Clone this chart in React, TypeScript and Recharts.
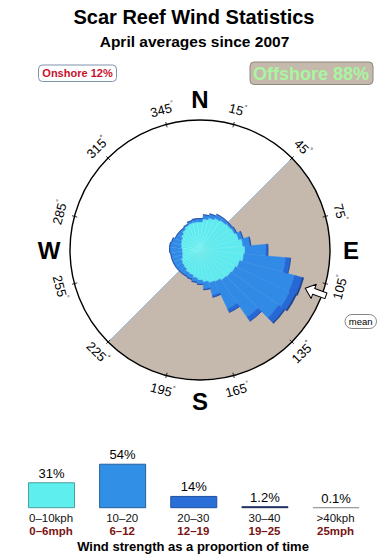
import {
  RadialBarChart,
  RadialBar,
  PolarAngleAxis,
  PolarRadiusAxis,
  BarChart,
  Bar,
  XAxis,
  YAxis,
  Cell,
  LabelList,
} from "recharts";

const FONT = "'Liberation Sans', Arial, Helvetica, sans-serif";

// rose: 10 degree sectors, values are radial lengths per speed band (stacked)
const directions = [
  0, 10, 20, 30, 40, 50, 60, 70, 80, 90, 100, 110, 120, 130, 140, 150, 160, 170,
  180, 190, 200, 210, 220, 230, 240, 250, 260, 270, 280, 290, 300, 310, 320, 330, 340, 350,
];
const band0to10 = [
  28, 31, 33, 35, 36, 37, 38, 40, 43, 45, 44, 41, 39, 38, 37, 35, 34, 32,
  30, 28, 26, 25, 23, 22, 21, 19, 18, 18, 19, 20, 21, 23, 25, 27, 28, 28,
];
const band10to20 = [
  3, 4, 4, 4, 3, 2, 2, 4, 7, 21, 42, 57, 60, 58, 45, 30, 13, 7,
  4, 4, 4, 4, 6, 7, 8, 10, 11, 12, 11, 9, 6, 4, 2, 1, 2, 3,
];
const band20to30 = [
  0.5, 0.5, 0.5, 0.5, 0.5, 0.5, 0.5, 0.5, 1, 2, 5, 8, 6, 7, 5, 4, 2, 1,
  0.5, 0.5, 0.5, 0.5, 0.5, 0.5, 0.5, 0.5, 0.5, 0.5, 0.5, 0.5, 0.5, 0.5, 0.5, 0.5, 0.5, 0.5,
];
const band30to40 = [
  0, 0, 0, 0, 0, 0, 0, 0, 0, 0, 0, 1.5, 1.5, 1, 0, 0, 0, 0,
  0, 0, 0, 0, 0, 0, 0, 0, 0, 0, 0, 0, 0, 0, 0, 0, 0, 0,
];

// strength summary
const kphLabels = ["0–10kph", "10–20", "20–30", "30–40", ">40kph"];
const mphLabels = ["0–6mph", "6–12", "12–19", "19–25", "25mph"];
const strengthShares = [31, 54, 14, 1.2, 0.1];
const strengthFills = ["#5eeeee", "#3190e6", "#2a6fd8", "#1c2f5c", "#9c9c9c"];
const strengthStrokes = ["#4f9ea0", "#245e9c", "#1f4f9c", "#1c2f5c", "#9c9c9c"];

const onshorePct = 12;
const offshorePct = 88;
const offshoreFrom = 45;
const offshoreTo = 225;
const meanBearing = 110;
const bearingTicks = [15, 45, 75, 105, 135, 165, 195, 225, 255, 285, 315, 345];
const cardinals = [
  { label: "N", bearing: 0 },
  { label: "E", bearing: 90 },
  { label: "S", bearing: 180 },
  { label: "W", bearing: 270 },
];

const roseData = directions.map((dir, i) => ({
  dir,
  b1: band0to10[i],
  b2: band10to20[i],
  b3: band20to30[i],
  b4: band30to40[i],
}));

const strengthData = kphLabels.map((kph, i) => ({
  kph,
  mph: mphLabels[i],
  share: strengthShares[i],
}));

const CX = 200;
const CY = 250;
const R = 130;

const polar = (r: number, bearing: number) => {
  const a = (bearing * Math.PI) / 180;
  return [CX + r * Math.sin(a), CY - r * Math.cos(a)];
};

const labelRotation = (b: number) => (b <= 90 ? b : b >= 270 ? b - 360 : b - 180);

const StrengthTick = (props: any) => {
  const { x, y, payload, index } = props;
  return (
    <g>
      <text x={x} y={y + 14.5} textAnchor="middle" fontSize={11.5} fill="#111" fontFamily={FONT}>
        {payload.value}
      </text>
      <text x={x} y={y + 27.5} textAnchor="middle" fontSize={11.5} fontWeight="bold" fill="#7a1414" fontFamily={FONT}>
        {mphLabels[index]}
      </text>
    </g>
  );
};

export default function App() {
  const [ox1, oy1] = polar(R, offshoreFrom);
  const [ox2, oy2] = polar(R, offshoreTo);

  return (
    <div style={{ position: "relative", width: 390, height: 560, background: "#fff", fontFamily: FONT, overflow: "hidden" }}>
      <style>{"body{margin:0}"}</style>

      {/* titles, shore boxes and compass background */}
      <svg width={390} height={560} style={{ position: "absolute", left: 0, top: 0 }}>
        <text x={194} y={24} textAnchor="middle" fontSize={20} fontWeight="bold" fill="#000">
          Scar Reef Wind Statistics
        </text>
        <text x={194.5} y={46.5} textAnchor="middle" fontSize={15.5} fontWeight="bold" fill="#000">
          April averages since 2007
        </text>

        <rect x={38.5} y={65} width={78} height={16.5} rx={4} fill="#fff" stroke="#7f93ad" strokeWidth={1} />
        <text x={77.5} y={77.3} textAnchor="middle" fontSize={11} fontWeight="bold" fill="#c8102e">
          Onshore {onshorePct}%
        </text>
        <rect x={250} y={62} width={123} height={22.5} rx={4} fill="#c5b9ab" stroke="#8e8880" strokeWidth={1} />
        <text x={311} y={79.8} textAnchor="middle" fontSize={18} fontWeight="bold" fill="#a9f5a0">
          Offshore {offshorePct}%
        </text>

        <circle cx={CX} cy={CY} r={R} fill="#fff" />
        <path d={`M ${ox1} ${oy1} A ${R} ${R} 0 0 1 ${ox2} ${oy2} Z`} fill="#c5b9ad" />
        <line x1={ox1} y1={oy1} x2={ox2} y2={oy2} stroke="#a6c5e8" strokeWidth={1} />
      </svg>

      <div style={{ position: "absolute", left: 0, top: 0 }}>
        <RadialBarChart
          width={390}
          height={500}
          data={roseData}
          cx={CX}
          cy={CY}
          innerRadius={0}
          outerRadius={R}
          startAngle={85}
          endAngle={-275}
          layout="centric"
          barCategoryGap={0}
          barGap={0}
          margin={{ top: 0, right: 0, bottom: 0, left: 0 }}
        >
          <PolarAngleAxis type="category" dataKey="dir" tick={false} axisLine={false} tickLine={false} />
          <PolarRadiusAxis type="number" domain={[0, R]} tick={false} axisLine={false} tickLine={false} />
          <RadialBar dataKey="b1" stackId="rose" fill="#5eeaee" stroke="#7ef2f2" strokeWidth={0.4} isAnimationActive={false} />
          <RadialBar dataKey="b2" stackId="rose" fill="#318ae6" stroke="#3d93ea" strokeWidth={0.4} isAnimationActive={false} />
          <RadialBar dataKey="b3" stackId="rose" fill="#2668d6" stroke="#2668d6" strokeWidth={0.4} isAnimationActive={false} />
          <RadialBar dataKey="b4" stackId="rose" fill="#1d3f8c" stroke="#1d3f8c" strokeWidth={0.4} isAnimationActive={false} />
        </RadialBarChart>
      </div>

      {/* compass ring, bearings and mean arrow */}
      <svg width={390} height={560} style={{ position: "absolute", left: 0, top: 0, pointerEvents: "none" }}>
        <circle cx={CX} cy={CY} r={R} fill="none" stroke="#000" strokeWidth={1.4} />
        {bearingTicks.map((b) => {
          const [x1, y1] = polar(R - 3, b);
          const [x2, y2] = polar(R + 2.5, b);
          const [lx, ly] = polar(145, b);
          return (
            <g key={b}>
              <line x1={x1} y1={y1} x2={x2} y2={y2} stroke="#000" strokeWidth={0.8} />
              <text
                x={lx}
                y={ly}
                transform={`rotate(${labelRotation(b)} ${lx} ${ly})`}
                textAnchor="middle"
                dominantBaseline="central"
                fontSize={13}
                fill="#000"
              >
                {b}
                <tspan fontSize={7} dy={-5}>°</tspan>
              </text>
            </g>
          );
        })}
        {cardinals.map((c) => {
          const [x, y] = polar(151, c.bearing);
          return (
            <text key={c.label} x={x} y={y + 8.5} textAnchor="middle" fontSize={24} fontWeight="bold" fill="#000">
              {c.label}
            </text>
          );
        })}

        <g transform={`translate(${CX} ${CY}) rotate(${meanBearing - 90})`}>
          <polygon
            points="112,0 121,-7.5 121,-3 134,-3 134,3 121,3 121,7.5"
            fill="#fff"
            stroke="#000"
            strokeWidth={1}
            strokeLinejoin="round"
          />
        </g>
        <rect x={345} y={314.5} width={31.5} height={14} rx={7} fill="#fff" stroke="#666" strokeWidth={0.8} />
        <text x={360.7} y={325} textAnchor="middle" fontSize={9.5} fill="#000">
          mean
        </text>

        <text x={193} y={550.5} textAnchor="middle" fontSize={13} fontWeight="bold" fill="#000">
          Wind strength as a proportion of time
        </text>
      </svg>

      <div style={{ position: "absolute", left: 0, top: 440 }}>
        <BarChart
          width={390}
          height={120}
          data={strengthData}
          margin={{ top: 19.4, right: 18.8, left: 15.5, bottom: 22.3 }}
          barCategoryGap={0}
        >
          <XAxis
            dataKey="kph"
            height={30}
            interval={0}
            axisLine={false}
            tickLine={false}
            tickSize={0}
            tickMargin={0}
            tick={<StrengthTick />}
          />
          <YAxis hide domain={[0, 60]} />
          <Bar dataKey="share" barSize={46} strokeWidth={1} isAnimationActive={false}>
            {strengthData.map((d, i) => (
              <Cell key={d.kph} fill={strengthFills[i]} stroke={strengthStrokes[i]} />
            ))}
            <LabelList
              dataKey="share"
              position="top"
              offset={5}
              fontSize={13}
              fill="#000"
              formatter={(v: any) => `${v}%`}
            />
          </Bar>
        </BarChart>
      </div>
    </div>
  );
}
